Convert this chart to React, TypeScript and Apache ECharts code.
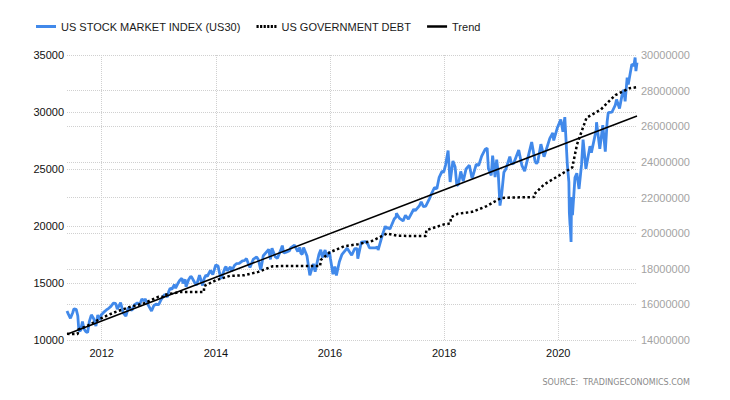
import React, { useEffect, useRef } from "react";
import * as echarts from "echarts";

const stockName = "US STOCK MARKET INDEX (US30)";
const debtName = "US GOVERNMENT DEBT";
const trendName = "Trend";

const xMin = "2011-05-24";
const xMax = "2021-05-19";
const yearTicks = [2012, 2014, 2016, 2018, 2020];

const stockData: [string, number][] = [
  ["2011-05-24", 12550], ["2011-06-01", 12290], ["2011-06-15", 11900], ["2011-06-30", 12414],
  ["2011-07-07", 12720], ["2011-07-22", 12680], ["2011-08-01", 12130], ["2011-08-08", 10810],
  ["2011-08-19", 10820], ["2011-08-31", 11614], ["2011-09-09", 10990], ["2011-09-22", 10730],
  ["2011-10-03", 10655], ["2011-10-14", 11640], ["2011-10-27", 12210], ["2011-11-10", 11890],
  ["2011-11-25", 11230], ["2011-12-07", 12200], ["2011-12-19", 11770], ["2011-12-30", 12218],
  ["2012-01-13", 12420], ["2012-01-31", 12633], ["2012-02-15", 12780], ["2012-02-29", 12952],
  ["2012-03-16", 13230], ["2012-03-30", 13212], ["2012-04-10", 12715], ["2012-05-01", 13280],
  ["2012-05-18", 12370], ["2012-06-04", 12100], ["2012-06-19", 12840], ["2012-07-12", 12600],
  ["2012-07-27", 13070], ["2012-08-16", 13250], ["2012-08-31", 13091], ["2012-09-14", 13590],
  ["2012-09-28", 13437], ["2012-10-05", 13610], ["2012-10-23", 13100], ["2012-11-15", 12540],
  ["2012-11-30", 13026], ["2012-12-14", 13135], ["2012-12-31", 13104],
  ["2013-01-15", 13530], ["2013-01-31", 13861], ["2013-02-08", 13990], ["2013-02-25", 13780],
  ["2013-03-05", 14250], ["2013-03-14", 14540], ["2013-03-25", 14450], ["2013-04-11", 14865],
  ["2013-04-18", 14540], ["2013-05-03", 14970], ["2013-05-14", 15215], ["2013-05-28", 15410],
  ["2013-06-05", 14960], ["2013-06-18", 15320], ["2013-06-24", 14660], ["2013-07-10", 15290],
  ["2013-07-23", 15570], ["2013-07-30", 15520], ["2013-08-15", 15110], ["2013-08-30", 14810],
  ["2013-09-03", 14830], ["2013-09-18", 15680], ["2013-09-30", 15130], ["2013-10-08", 14780],
  ["2013-10-18", 15400], ["2013-10-29", 15680], ["2013-11-07", 15590], ["2013-11-27", 16100],
  ["2013-12-12", 15740], ["2013-12-31", 16577],
  ["2014-01-15", 16480], ["2014-01-24", 15880], ["2014-02-03", 15370], ["2014-02-28", 16322],
  ["2014-03-07", 16450], ["2014-03-14", 16065], ["2014-04-04", 16412], ["2014-04-11", 16027],
  ["2014-05-01", 16560], ["2014-05-12", 16695], ["2014-05-30", 16717], ["2014-06-20", 16947],
  ["2014-07-01", 16956], ["2014-07-16", 17138], ["2014-07-31", 16563], ["2014-08-07", 16368],
  ["2014-08-29", 17098], ["2014-09-19", 17280], ["2014-09-30", 17043], ["2014-10-15", 16142],
  ["2014-10-31", 17391], ["2014-11-28", 17828], ["2014-12-05", 17958], ["2014-12-16", 17068],
  ["2014-12-26", 18053],
  ["2015-01-15", 17320], ["2015-01-30", 17165], ["2015-02-27", 18133], ["2015-03-02", 18288],
  ["2015-03-11", 17635], ["2015-03-27", 17712], ["2015-04-17", 17827], ["2015-04-24", 18080],
  ["2015-05-19", 18312], ["2015-06-09", 17765], ["2015-06-22", 18120], ["2015-06-29", 17596],
  ["2015-07-08", 17515], ["2015-07-16", 18120], ["2015-08-07", 17373], ["2015-08-25", 15666],
  ["2015-09-17", 16674], ["2015-09-28", 16001], ["2015-10-22", 17489], ["2015-11-03", 17918],
  ["2015-11-13", 17245], ["2015-12-01", 17888], ["2015-12-11", 17265], ["2015-12-29", 17720],
  ["2016-01-04", 17149], ["2016-01-20", 15766], ["2016-02-01", 16449], ["2016-02-11", 15660],
  ["2016-03-01", 16865], ["2016-03-17", 17481], ["2016-04-20", 18053], ["2016-05-19", 17435],
  ["2016-05-31", 17787], ["2016-06-08", 18005], ["2016-06-23", 18011], ["2016-06-27", 17140],
  ["2016-07-20", 18595], ["2016-08-15", 18636], ["2016-08-31", 18401], ["2016-09-09", 18085],
  ["2016-10-17", 18087], ["2016-10-31", 18142], ["2016-11-04", 17888], ["2016-11-30", 19124],
  ["2016-12-20", 19975], ["2016-12-30", 19763],
  ["2017-01-03", 19882], ["2017-01-19", 19732], ["2017-02-15", 20611], ["2017-02-28", 20812],
  ["2017-03-01", 21115], ["2017-03-22", 20661], ["2017-04-13", 20453], ["2017-04-28", 20940],
  ["2017-05-17", 20607], ["2017-06-20", 21468], ["2017-06-30", 21350], ["2017-07-27", 21796],
  ["2017-08-07", 22118], ["2017-08-21", 21703], ["2017-09-05", 21753], ["2017-09-29", 22405],
  ["2017-10-13", 22871], ["2017-10-31", 23377], ["2017-11-15", 23271], ["2017-11-30", 24272],
  ["2017-12-18", 24792], ["2017-12-29", 24719],
  ["2018-01-10", 25369], ["2018-01-26", 26617], ["2018-02-08", 23860], ["2018-02-26", 25709],
  ["2018-03-12", 25178], ["2018-03-23", 23533], ["2018-04-02", 23644], ["2018-04-17", 24786],
  ["2018-05-03", 23930], ["2018-05-21", 25013], ["2018-06-11", 25322], ["2018-06-28", 24216],
  ["2018-07-02", 24307], ["2018-07-25", 25415], ["2018-08-10", 25313], ["2018-08-29", 26124],
  ["2018-09-21", 26743], ["2018-10-03", 26828], ["2018-10-11", 25052], ["2018-10-29", 24443],
  ["2018-11-07", 26180], ["2018-11-23", 24286], ["2018-12-03", 25826], ["2018-12-13", 24597],
  ["2018-12-24", 21792],
  ["2019-01-03", 22686], ["2019-01-18", 24706], ["2019-01-31", 24999], ["2019-02-25", 26092],
  ["2019-03-08", 25450], ["2019-03-22", 25502], ["2019-04-23", 26656], ["2019-05-13", 25324],
  ["2019-05-31", 24815], ["2019-07-15", 27359], ["2019-08-05", 25718], ["2019-08-14", 25479],
  ["2019-08-23", 25629], ["2019-09-12", 27182], ["2019-10-02", 26078], ["2019-11-08", 27681],
  ["2019-11-27", 28164], ["2019-12-03", 27502], ["2019-12-27", 28645],
  ["2020-01-17", 29348], ["2020-01-31", 28256], ["2020-02-12", 29551], ["2020-02-28", 25409],
  ["2020-03-09", 23851], ["2020-03-12", 21200], ["2020-03-16", 20188], ["2020-03-18", 19898],
  ["2020-03-23", 18592], ["2020-03-26", 22552], ["2020-04-01", 20943], ["2020-04-17", 24242],
  ["2020-04-29", 24633], ["2020-05-13", 23248], ["2020-05-29", 25383], ["2020-06-08", 27572],
  ["2020-06-26", 25016], ["2020-07-22", 27005], ["2020-07-31", 26428], ["2020-08-31", 28430],
  ["2020-09-02", 29100], ["2020-09-23", 26763], ["2020-10-12", 28838], ["2020-10-28", 26519],
  ["2020-11-09", 29158], ["2020-11-16", 29950], ["2020-12-10", 29999], ["2020-12-31", 30606],
  ["2021-01-08", 31097], ["2021-01-27", 30303], ["2021-02-12", 31458], ["2021-02-24", 31962],
  ["2021-03-04", 30924], ["2021-03-17", 33015], ["2021-03-24", 32420], ["2021-04-16", 34200],
  ["2021-04-29", 34060], ["2021-05-07", 34777], ["2021-05-12", 33587], ["2021-05-19", 34327],
];

const debtData: [string, number][] = [
  ["2011-05-24", 14344000], ["2011-08-01", 14343000], ["2011-08-03", 14580000], ["2011-09-30", 14790000],
  ["2011-12-31", 15223000], ["2012-01-31", 15356000], ["2012-03-31", 15582000], ["2012-06-30", 15856000],
  ["2012-09-30", 16066000], ["2012-12-31", 16433000], ["2013-01-31", 16433000], ["2013-02-05", 16530000],
  ["2013-05-18", 16699000], ["2013-10-16", 16699000], ["2013-10-18", 17030000], ["2013-12-31", 17352000],
  ["2014-03-31", 17601000], ["2014-06-30", 17632000], ["2014-09-30", 17824000], ["2014-12-31", 18141000],
  ["2015-03-15", 18152000], ["2015-10-30", 18152000], ["2015-11-03", 18492000], ["2015-12-31", 18922000],
  ["2016-03-31", 19264000], ["2016-06-30", 19381000], ["2016-09-30", 19573000], ["2016-12-31", 19977000],
  ["2017-03-15", 19846000], ["2017-09-07", 19844000], ["2017-09-08", 20162000], ["2017-12-31", 20493000],
  ["2018-02-09", 20540000], ["2018-02-14", 20900000], ["2018-03-31", 21089000], ["2018-06-30", 21195000],
  ["2018-09-30", 21516000], ["2018-12-31", 21974000], ["2019-03-02", 22000000], ["2019-07-31", 22023000],
  ["2019-08-02", 22200000], ["2019-09-30", 22719000], ["2019-12-31", 23201000], ["2020-03-31", 23686000],
  ["2020-04-30", 24974000], ["2020-05-31", 25743000], ["2020-06-30", 26477000], ["2020-09-30", 26945000],
  ["2020-12-31", 27748000], ["2021-03-31", 28133000], ["2021-05-19", 28193000],
];

const trendData: [string, number][] = [
  ["2011-05-24", 10500],
  ["2021-05-19", 29650],
];

const font = "Liberation Sans, Arial, sans-serif";

const ts = (d: string) => {
  const [y, m, day] = d.split("-").map(Number);
  return new Date(y, m - 1, day).getTime();
};
const toPoints = (arr: [string, number][]) => arr.map(([d, v]) => [ts(d), v]);

const solidIcon = "path://M0,0H20V3H0Z";
const trendIcon = "path://M0,0.25H20V2.75H0Z";
const dottedIcon =
  "path://M0,0H2.2V3H0Z M3.6,0H5.8V3H3.6Z M7.2,0H9.4V3H7.2Z M10.8,0H13V3H10.8Z M14.4,0H16.6V3H14.4Z M18,0H20.2V3H18Z";

export default function App() {
  const ref = useRef<HTMLDivElement>(null);
  useEffect(() => {
    if (!ref.current) return;
    const chart = echarts.init(ref.current, null, { renderer: "svg" });
    const yearValues = yearTicks.map((y) => new Date(y, 0, 1).getTime());
    const gridLine = { show: true, lineStyle: { color: "#d0d0d0", type: "dotted" as const, width: 1 } };
    chart.setOption({
      animation: false,
      backgroundColor: "#fff",
      textStyle: { fontFamily: font },
      legend: {
        left: 31,
        top: 16,
        itemWidth: 20,
        itemHeight: 3,
        itemGap: 16,
        textStyle: { fontSize: 11, color: "#1a1a1a", fontFamily: font },
        data: [
          { name: stockName, icon: solidIcon },
          { name: debtName, icon: dottedIcon },
          { name: trendName, icon: trendIcon },
        ],
      },
      grid: { left: 67, right: 93, top: 55, bottom: 60 },
      xAxis: {
        type: "value",
        min: ts(xMin),
        max: ts(xMax),
        axisLine: { show: false },
        axisTick: { show: false, customValues: yearValues },
        axisLabel: {
          customValues: yearValues,
          formatter: (v: number) => String(new Date(v).getFullYear()),
          color: "#111",
          fontSize: 11,
          margin: 7,
          fontFamily: font,
        },
        splitLine: gridLine,
      },
      yAxis: [
        {
          type: "value",
          position: "left",
          min: 10000,
          max: 35000,
          interval: 5000,
          axisLine: { show: false },
          axisTick: { show: false },
          axisLabel: { color: "#111", fontSize: 11, margin: 3, fontFamily: font, formatter: (v: number) => String(v) },
          splitLine: gridLine,
        },
        {
          type: "value",
          position: "right",
          min: 14000000,
          max: 30000000,
          interval: 2000000,
          axisLine: { show: false },
          axisTick: { show: false },
          axisLabel: { color: "#a3a3a3", fontSize: 11, margin: 4, fontFamily: font, formatter: (v: number) => String(v) },
          splitLine: gridLine,
        },
      ],
      series: [
        {
          name: stockName,
          type: "line",
          yAxisIndex: 0,
          data: toPoints(stockData),
          showSymbol: false,
          symbol: "none",
          color: "#4189ea",
          lineStyle: { color: "#4189ea", width: 2.8 },
          z: 2,
        },
        {
          name: debtName,
          type: "line",
          yAxisIndex: 1,
          data: toPoints(debtData),
          showSymbol: false,
          symbol: "none",
          color: "#000",
          lineStyle: { color: "#000", width: 2.5, type: [2.5, 2.5] },
          z: 3,
        },
        {
          name: trendName,
          type: "line",
          yAxisIndex: 0,
          data: toPoints(trendData),
          showSymbol: false,
          symbol: "none",
          color: "#000",
          lineStyle: { color: "#000", width: 1.5 },
          z: 4,
        },
      ],
      graphic: [
        {
          type: "text",
          right: 40,
          top: 378,
          style: {
            text: "SOURCE:  TRADINGECONOMICS.COM",
            fill: "#8a8a8a",
            font: "8px 'DejaVu Sans', Verdana, sans-serif",
          },
        },
      ],
    });
    return () => chart.dispose();
  }, []);
  return <div ref={ref} style={{ position: "absolute", left: 0, top: 0, width: 730, height: 400 }} />;
}
